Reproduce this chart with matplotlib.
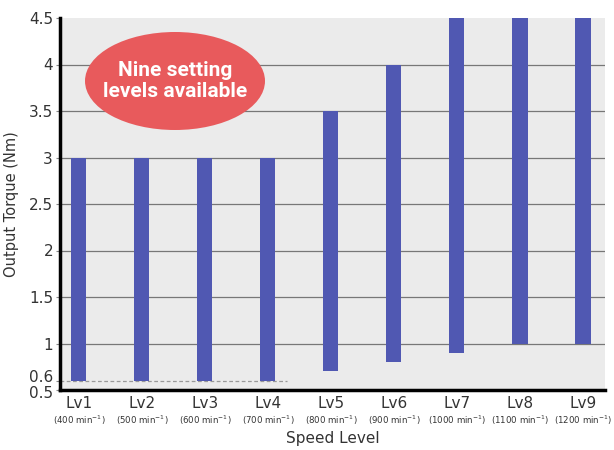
import matplotlib
matplotlib.use("Agg")
import matplotlib.pyplot as plt
from matplotlib.patches import Ellipse
from matplotlib.transforms import ScaledTranslation

levels = ["Lv1", "Lv2", "Lv3", "Lv4", "Lv5", "Lv6", "Lv7", "Lv8", "Lv9"]
speeds = ["400", "500", "600", "700", "800", "900", "1000", "1100", "1200"]
torque_min = [0.6, 0.6, 0.6, 0.6, 0.7, 0.8, 0.9, 1.0, 1.0]
torque_max = [3.0, 3.0, 3.0, 3.0, 3.5, 4.0, 4.5, 4.5, 4.5]
yticks = [0.5, 0.6, 1, 1.5, 2, 2.5, 3, 3.5, 4, 4.5]
ytick_labels = ["0.5", "0.6", "1", "1.5", "2", "2.5", "3", "3.5", "4", "4.5"]

fig = plt.figure(figsize=(6.14, 4.5), dpi=100)
ax = fig.add_axes([60/614, 1-390/450, 545/614, 372/450])
ax.set_facecolor("#ebebeb")

x = list(range(len(levels)))
heights = [hi - lo for lo, hi in zip(torque_min, torque_max)]
ax.bar(x, heights, bottom=torque_min, width=0.24, color="#5058b2", zorder=3)

for v in [1, 1.5, 2, 2.5, 3, 3.5, 4]:
    ax.axhline(v, color="#777777", lw=0.9, zorder=1)
ax.plot([-0.3, 3.3], [0.6, 0.6], ls=(0, (3, 2)), color="#999999", lw=0.9, zorder=2)

ax.set_xlim(-0.3, 8.35)
ax.set_ylim(0.5, 4.5)
ax.set_yticks(yticks)
ax.set_yticklabels(ytick_labels, fontsize=11, color="#333333")
ax.set_xticks(x)
ax.set_xticklabels([""] * len(x))
ax.tick_params(axis="x", length=0)
ax.tick_params(axis="y", length=3, color="#888888", pad=2)

# offset the crowded 0.5 / 0.6 labels
labs = ax.get_yticklabels()
labs[0].set_transform(labs[0].get_transform() + ScaledTranslation(0, -2/100, fig.dpi_scale_trans))
labs[1].set_transform(labs[1].get_transform() + ScaledTranslation(0, 5/100, fig.dpi_scale_trans))

for xi, lv, sp in zip(x, levels, speeds):
    ax.text(xi, 0.44, lv, ha="center", va="top", fontsize=11, color="#333333",
            transform=ax.transData, clip_on=False)
    ax.text(xi, 0.25, "(" + sp + " min$^{-1}$)", ha="center", va="top", fontsize=6.2,
            color="#333333", transform=ax.transData, clip_on=False)

ax.set_xlabel("Speed Level", fontsize=11, color="#333333", labelpad=26)
ax.set_ylabel("Output Torque (Nm)", fontsize=10.5, color="#333333", labelpad=7)

for s in ["top", "right"]:
    ax.spines[s].set_visible(False)
ax.spines["left"].set_linewidth(2.5)
ax.spines["bottom"].set_linewidth(2.5)

ell = Ellipse((175/614, 1-81/450), 180/614, 98/450, transform=fig.transFigure,
              facecolor="#e85a5c", edgecolor="none", zorder=5)
fig.patches.append(ell)
fig.text(175/614, 1-81/450, "Nine setting\nlevels available", ha="center", va="center",
         color="white", fontsize=15, fontweight="bold",
         family=["Roboto", "DejaVu Sans"], linespacing=1.15, zorder=6)

fig.savefig("out.png", dpi=100)
